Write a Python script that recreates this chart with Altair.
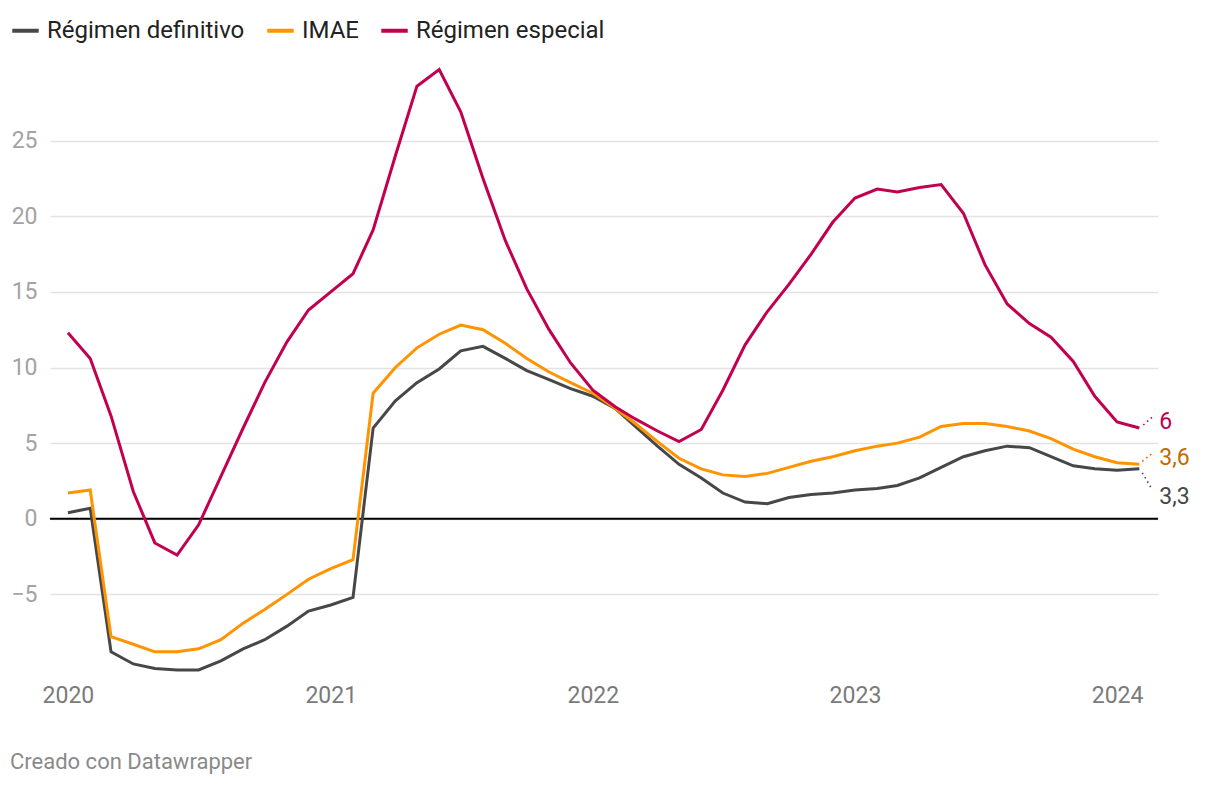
import altair as alt
import pandas as pd

# Monthly dates, Jan 2020 - Feb 2024
months = [f"{y}-{m:02d}-01" for y in range(2020, 2025) for m in range(1, 13)][:50]

series_names = ["Régimen definitivo", "IMAE", "Régimen especial"]
series_colors = ["#474747", "#ff9300", "#c2004f"]
label_colors = ["#474747", "#c46a00", "#c2004f"]

regimen_definitivo = [
    0.4, 0.7, -8.8, -9.6, -9.9, -10.0, -10.0, -9.4, -8.6, -8.0, -7.1, -6.1,
    -5.7, -5.2, 6.0, 7.8, 9.0, 9.9, 11.1, 11.4, 10.6, 9.8, 9.2, 8.6,
    8.1, 7.3, 6.1, 4.8, 3.6, 2.7, 1.7, 1.1, 1.0, 1.4, 1.6, 1.7,
    1.9, 2.0, 2.2, 2.7, 3.4, 4.1, 4.5, 4.8, 4.7, 4.1, 3.5, 3.3,
    3.2, 3.3,
]
imae = [
    1.7, 1.9, -7.8, -8.3, -8.8, -8.8, -8.6, -8.0, -6.9, -6.0, -5.0, -4.0,
    -3.3, -2.7, 8.3, 10.0, 11.3, 12.2, 12.8, 12.5, 11.6, 10.6, 9.7, 9.0,
    8.3, 7.3, 6.3, 5.1, 4.0, 3.3, 2.9, 2.8, 3.0, 3.4, 3.8, 4.1,
    4.5, 4.8, 5.0, 5.4, 6.1, 6.3, 6.3, 6.1, 5.8, 5.3, 4.6, 4.1,
    3.7, 3.6,
]
regimen_especial = [
    12.3, 10.6, 6.8, 1.8, -1.6, -2.4, -0.4, 2.8, 6.0, 9.0, 11.7, 13.8,
    15.0, 16.2, 19.1, 24.0, 28.6, 29.7, 26.9, 22.5, 18.4, 15.2, 12.5, 10.3,
    8.5, 7.4, 6.6, 5.8, 5.1, 5.9, 8.5, 11.5, 13.7, 15.5, 17.5, 19.6,
    21.2, 21.8, 21.6, 21.9, 22.1, 20.2, 16.8, 14.2, 12.9, 12.0, 10.4, 8.1,
    6.4, 6.0,
]
end_labels = ["3,3", "3,6", "6"]

y_ticks = [-5, 0, 5, 10, 15, 20, 25]
x_years = [2020, 2021, 2022, 2023, 2024]

all_series = [regimen_definitivo, imae, regimen_especial]

rows = []
for name, vals in zip(series_names, all_series):
    for d, v in zip(months, vals):
        rows.append({"date": d, "serie": name, "value": v})
df = pd.DataFrame(rows)

FONT = "Roboto"

xscale = alt.Scale(
    type="utc",
    domain=[alt.DateTime(year=2019, month=12, date=7, utc=True),
            alt.DateTime(year=2024, month=2, date=27, utc=True)],
)
yscale = alt.Scale(domain=[-10, 30], nice=False, zero=False)

x_axis = alt.Axis(
    values=[alt.DateTime(year=y, month=1, date=1, utc=True) for y in x_years],
    labelExpr="utcFormat(datum.value, '%Y')",
    domain=False, ticks=False, grid=False, title=None,
    labelPadding=14, labelFontSize=23, labelColor="#7a7a7a", labelFont=FONT,
)
y_axis = alt.Axis(
    values=y_ticks, format="d",
    domain=False, ticks=False, grid=True, gridColor="#e3e3e3", gridWidth=1.5,
    title=None, labelPadding=13, labelFontSize=23, labelColor="#a3a3a3",
    labelFont=FONT,
)

X = lambda: alt.X("date:T", scale=xscale, axis=x_axis)
Y = lambda f="value:Q": alt.Y(f, scale=yscale, axis=y_axis)

color = alt.Color(
    "serie:N",
    scale=alt.Scale(domain=series_names, range=series_colors),
    sort=series_names,
    legend=alt.Legend(
        orient="none", legendX=-40, legendY=-50, direction="horizontal",
        title=None, symbolType="stroke", symbolStrokeWidth=4, symbolSize=700,
        labelFontSize=24, labelFont=FONT, labelColor="#222222",
        columnPadding=14, labelOffset=6, labelLimit=400,
    ),
)

lines = alt.Chart(df).mark_line(strokeWidth=3).encode(
    x=X(),
    y=Y(),
    color=color,
    order=alt.Order("date:T"),
)

zero = alt.Chart(pd.DataFrame({"y": [0]})).mark_rule(
    color="#000000", strokeWidth=2
).encode(y=Y("y:Q"))

# end-of-line labels with dotted connectors
end_style = {
    "Régimen definitivo": dict(x0=3, y0=4, x1=13, y1=21, dy=28),
    "IMAE": dict(x0=3, y0=-3, x1=13, y1=-11, dy=-6),
    "Régimen especial": dict(x0=4, y0=-3, x1=13, y1=-11, dy=-6),
}
end_layers = []
for name, vals, lab, lcol in zip(series_names, all_series, end_labels, label_colors):
    edf = pd.DataFrame({"date": [months[-1]], "value": [vals[-1]], "label": [lab]})
    st = end_style[name]
    conn = alt.Chart(edf).mark_rule(
        color=lcol, strokeWidth=1.6, strokeDash=[1.5, 3.5],
        xOffset=st["x0"], yOffset=st["y0"], x2Offset=st["x1"], y2Offset=st["y1"],
    ).encode(
        x=X(),
        x2="date:T",
        y=Y(),
        y2="value:Q",
    )
    txt = alt.Chart(edf).mark_text(
        align="left", baseline="middle", dx=20, dy=st["dy"],
        fontSize=23, font=FONT, color=lcol,
    ).encode(
        x=X(),
        y=Y(),
        text="label:N",
    )
    end_layers += [conn, txt]

chart = alt.layer(zero, lines, *end_layers).properties(
    width=1108,
    height=605,
    padding={"left": 50, "top": 65, "right": 62, "bottom": 116},
    autosize=alt.AutoSizeParams(type="none"),
    background="#ffffff",
    title=alt.TitleParams(
        "Creado con Datawrapper", orient="bottom", anchor="start", frame="group",
        dx=-40, offset=45, fontSize=22, font=FONT, color="#8a8a8a",
        fontWeight="normal",
    ),
).configure_view(stroke=None)

chart.save("out.html", embed_options={"renderer": "svg", "actions": False})
